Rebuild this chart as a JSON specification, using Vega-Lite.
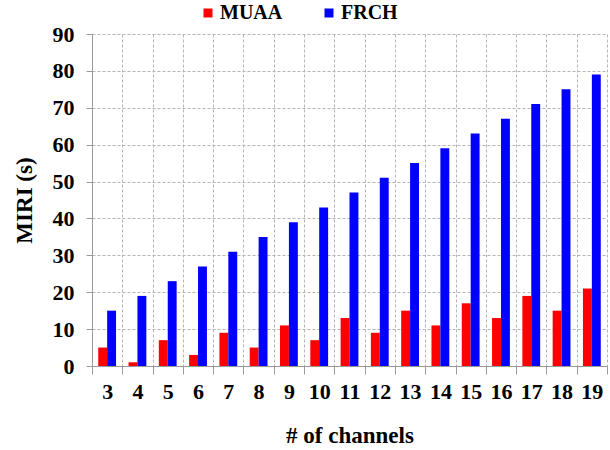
{
  "$schema": "https://vega.github.io/schema/vega-lite/v6.json",
  "width": 515,
  "height": 332,
  "autosize": {"type": "none"},
  "padding": {"left": 92, "top": 34, "right": 3, "bottom": 84},
  "background": "white",
  "config": {
    "font": "Liberation Serif",
    "view": {"stroke": null},
    "axis": {"labelFont": "Liberation Serif", "titleFont": "Liberation Serif", "labelFontWeight": "bold", "titleFontWeight": "bold", "labelColor": "black", "titleColor": "black"},
    "legend": {"labelFont": "Liberation Serif", "labelFontWeight": "bold", "labelColor": "black"}
  },
  "data": {
    "values": [
      {"ch": 3, "series": "MUAA", "v": 5}, {"ch": 3, "series": "FRCH", "v": 15},
      {"ch": 4, "series": "MUAA", "v": 1}, {"ch": 4, "series": "FRCH", "v": 19},
      {"ch": 5, "series": "MUAA", "v": 7}, {"ch": 5, "series": "FRCH", "v": 23},
      {"ch": 6, "series": "MUAA", "v": 3}, {"ch": 6, "series": "FRCH", "v": 27},
      {"ch": 7, "series": "MUAA", "v": 9}, {"ch": 7, "series": "FRCH", "v": 31},
      {"ch": 8, "series": "MUAA", "v": 5}, {"ch": 8, "series": "FRCH", "v": 35},
      {"ch": 9, "series": "MUAA", "v": 11}, {"ch": 9, "series": "FRCH", "v": 39},
      {"ch": 10, "series": "MUAA", "v": 7}, {"ch": 10, "series": "FRCH", "v": 43},
      {"ch": 11, "series": "MUAA", "v": 13}, {"ch": 11, "series": "FRCH", "v": 47},
      {"ch": 12, "series": "MUAA", "v": 9}, {"ch": 12, "series": "FRCH", "v": 51},
      {"ch": 13, "series": "MUAA", "v": 15}, {"ch": 13, "series": "FRCH", "v": 55},
      {"ch": 14, "series": "MUAA", "v": 11}, {"ch": 14, "series": "FRCH", "v": 59},
      {"ch": 15, "series": "MUAA", "v": 17}, {"ch": 15, "series": "FRCH", "v": 63},
      {"ch": 16, "series": "MUAA", "v": 13}, {"ch": 16, "series": "FRCH", "v": 67},
      {"ch": 17, "series": "MUAA", "v": 19}, {"ch": 17, "series": "FRCH", "v": 71},
      {"ch": 18, "series": "MUAA", "v": 15}, {"ch": 18, "series": "FRCH", "v": 75},
      {"ch": 19, "series": "MUAA", "v": 21}, {"ch": 19, "series": "FRCH", "v": 79}
    ]
  },
  "mark": {"type": "bar", "strokeWidth": 0},
  "encoding": {
    "x": {
      "field": "ch", "type": "ordinal", "sort": "ascending",
      "scale": {"paddingInner": 0, "paddingOuter": 0},
      "axis": {
        "title": "# of channels", "titleFontSize": 23, "titlePadding": 22,
        "labelFontSize": 22, "labelPadding": 7, "labelAngle": 0,
        "tickBand": "extent", "tickSize": 8, "tickColor": "#999", "domainColor": "#999",
        "grid": true, "gridColor": "#b5b5b5", "gridDash": [3, 2]
      }
    },
    "xOffset": {"field": "series", "type": "nominal", "sort": ["MUAA", "FRCH"], "scale": {"paddingInner": 0, "paddingOuter": 0.7}},
    "y": {
      "field": "v", "type": "quantitative",
      "scale": {"domain": [0, 90], "nice": false},
      "axis": {
        "title": "MIRI (s)", "titleFontSize": 23, "titlePadding": 16,
        "labelFontSize": 22, "labelPadding": 12, "values": [0, 10, 20, 30, 40, 50, 60, 70, 80, 90],
        "tickSize": 6, "tickColor": "#999", "domainColor": "#999",
        "grid": true, "gridColor": "#b5b5b5", "gridDash": [3, 2]
      }
    },
    "color": {
      "field": "series", "type": "nominal", "sort": ["MUAA", "FRCH"],
      "scale": {"domain": ["MUAA", "FRCH"], "range": ["#ff0000", "#0000ff"]},
      "legend": {
        "title": null, "orient": "none", "direction": "horizontal",
        "legendX": 106, "legendY": -31,
        "symbolType": "square", "symbolSize": 81, "symbolStrokeWidth": 0,
        "labelFontSize": 20, "labelOffset": 2, "columnPadding": 36
      }
    }
  }
}
